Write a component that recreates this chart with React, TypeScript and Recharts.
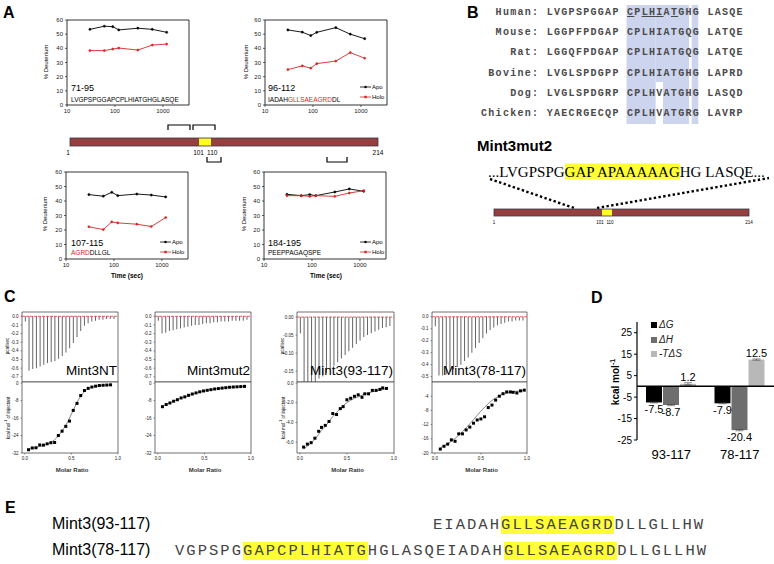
import React from "react";
import {
  LineChart, Line, XAxis, YAxis, ReferenceArea, ReferenceLine,
  BarChart, Bar, ComposedChart, Scatter, ZAxis, LabelList, ErrorBar,
} from "recharts";

const SANS = "'Liberation Sans', Arial, sans-serif";
const MONO = "'Liberation Mono', 'Courier New', monospace";
const SERIF = "'Liberation Serif', 'Times New Roman', serif";
const RED = "#d62828";

// ---- Panel A: deuterium uptake (% vs time, sec)
const hdxTime = [30, 60, 90, 120, 300, 600, 1200];
const apo71 = [53.4, 55.6, 55.3, 53, 54.2, 53.4, 51.3];
const holo71 = [38.4, 38.4, 39.5, 40.2, 38.8, 42.3, 43];
const apo96 = [53, 51.4, 49, 51.3, 54.6, 50, 46.8];
const holo96 = [25, 27.6, 26, 29.2, 31, 37, 33];
const apo107 = [44.4, 43.3, 46, 43.7, 44.8, 44.1, 42.8];
const holo107 = [22.2, 20.3, 25.6, 24.9, 24, 22.4, 28.6];
const apo184 = [44.6, 43.7, 44.4, 43.7, 46.2, 48.3, 46.7];
const holo184 = [43.7, 43.7, 43.2, 43.7, 43.2, 45.5, 47.1];
const timeTicks = [10, 100, 1000];
const deutTicks = [0, 10, 20, 30, 40, 50, 60];

// ---- Panel B: alignment
const species = ["  Human:", "  Mouse:", "    Rat:", " Bovine:", "    Dog:", "Chicken:"];
const blockA = ["LVGPSPGGAP", "LGGPFPDGAP", "LGGQFPDGAP", "LVGLSPDGPP", "LVGLSPDGRP", "YAECRGECQP"];
const blockB = ["CPLHIATGHG", "CPLHIATGQG", "CPLHIATGQG", "CPLHIATGHG", "CPLHVATGHG", "CPLHVATGRG"];
const blockC = ["LASQE", "LATQE", "LATQE", "LAPRD", "LASQD", "LAVRP"];

// ---- Panel C: ITC raw peaks (ucal/sec) and integrated heats (kcal/mol)
const peaksNT = [-0.06, -0.63, -0.61, -0.6, -0.58, -0.56, -0.54, -0.53, -0.52, -0.49, -0.46, -0.42, -0.37, -0.31, -0.24, -0.17, -0.11, -0.08, -0.06, -0.05, -0.04, -0.04, -0.03, -0.03, -0.03];
const peaksMut2 = [-0.05, -0.2, -0.19, -0.17, -0.16, -0.15, -0.14, -0.13, -0.12, -0.11, -0.1, -0.1, -0.09, -0.08, -0.08, -0.07, -0.07, -0.06, -0.06, -0.06, -0.05, -0.05, -0.05, -0.05, -0.04];
const peaks93 = [-0.045, -0.18, -0.18, -0.18, -0.18, -0.17, -0.165, -0.155, -0.145, -0.135, -0.125, -0.115, -0.105, -0.095, -0.085, -0.075, -0.065, -0.055, -0.05, -0.045, -0.04, -0.035, -0.03, -0.028, -0.025];
const peaks78 = [-0.08, -0.49, -0.49, -0.48, -0.46, -0.44, -0.42, -0.4, -0.37, -0.34, -0.3, -0.26, -0.22, -0.18, -0.14, -0.11, -0.09, -0.07, -0.06, -0.05, -0.04, -0.04, -0.03, -0.03, -0.03];

const mrNT = [0.04, 0.08, 0.12, 0.16, 0.2, 0.24, 0.28, 0.32, 0.36, 0.4, 0.44, 0.48, 0.52, 0.56, 0.6, 0.64, 0.68, 0.72, 0.76, 0.8, 0.84, 0.88, 0.92];
const heatNT = [-30.5, -29.7, -29.6, -28.3, -28.4, -27.8, -27.3, -27.2, -24, -22, -19.8, -17.4, -12.5, -9.3, -5.7, -3.4, -2.4, -1.8, -1.4, -1.1, -1, -0.9, -0.8];
const fitNT = [-30.3, -29.9, -29.5, -29, -28.5, -27.9, -27.1, -25.9, -24.2, -22, -19.3, -16, -12.4, -8.9, -6, -3.9, -2.6, -1.9, -1.5, -1.2, -1, -0.9, -0.8];

const mrMut2 = [0.05, 0.09, 0.13, 0.17, 0.21, 0.25, 0.29, 0.33, 0.37, 0.41, 0.45, 0.49, 0.53, 0.57, 0.61, 0.65, 0.69, 0.73, 0.77, 0.81, 0.85, 0.89, 0.93];
const heatMut2 = [-10.8, -9.8, -9.1, -8.3, -7.6, -6.8, -6.3, -5.6, -5, -4.5, -4, -3.6, -3.3, -3, -2.7, -2.5, -2.3, -2.1, -1.9, -1.8, -1.7, -1.6, -1.5];
const fitMut2 = [-10.6, -9.8, -9, -8.3, -7.6, -6.9, -6.3, -5.7, -5.1, -4.6, -4.1, -3.7, -3.3, -3, -2.7, -2.5, -2.3, -2.1, -1.9, -1.8, -1.7, -1.6, -1.5];

const mr93 = [0.04, 0.08, 0.12, 0.16, 0.2, 0.23, 0.27, 0.31, 0.35, 0.39, 0.43, 0.46, 0.5, 0.54, 0.58, 0.62, 0.66, 0.69, 0.73, 0.77, 0.81, 0.85, 0.88, 0.92];
const heat93 = [-6.5, -6.2, -6.05, -5.6, -4.9, -4.5, -4.3, -3.9, -3.1, -3.2, -2.6, -2.4, -1.7, -1.55, -1.35, -1.2, -1.45, -1.1, -1.1, -0.75, -0.75, -0.65, -0.5, -0.55];
const fit93 = [-6.7, -6.4, -6.1, -5.7, -5.2, -4.8, -4.4, -3.9, -3.4, -3, -2.6, -2.3, -2, -1.75, -1.55, -1.4, -1.25, -1.12, -1, -0.9, -0.8, -0.72, -0.65, -0.58];

const mr78 = [0.06, 0.1, 0.14, 0.18, 0.22, 0.26, 0.3, 0.34, 0.38, 0.42, 0.46, 0.5, 0.54, 0.58, 0.62, 0.66, 0.7, 0.74, 0.78, 0.82, 0.85, 0.89, 0.93, 0.97];
const heat78 = [-18.9, -18.1, -17.5, -16.3, -16.7, -14.6, -14.6, -13.5, -12.7, -11.6, -10.7, -10.4, -9.8, -7.2, -6.5, -5.1, -4, -3.3, -2.8, -2.8, -2.9, -3.1, -2.5, -2.3];
const fit78 = [-18.5, -18, -17.4, -16.7, -15.9, -15, -14, -12.9, -11.8, -10.6, -9.4, -8.2, -7.1, -6.1, -5.2, -4.5, -3.9, -3.4, -3.1, -2.9, -2.7, -2.6, -2.5, -2.4];

// ---- Panel D: thermodynamics (kcal/mol)
const groups = ["93-117", "78-117"];
const dG = [-7.5, -7.9];
const dH = [-8.7, -20.4];
const mTdS = [1.2, 12.5];
const dGErr = [0.2, 0.2];
const dHErr = [0.3, 0.3];
const mTdSErr = [0.5, 0.3];
const kcalTicks = [-25, -15, -5, 5, 15, 25];

const tickStyle = (s: number) => ({ fontSize: s, fill: "#222", fontFamily: SANS });

function Txt({ x, y, size, children, weight = 400, color = "#000", font = SANS, align = "left", rotate = false, italic = false }: any) {
  let transform = "translate(0, -50%)";
  if (rotate) transform = "translate(-50%, -50%) rotate(-90deg)";
  else if (align === "center") transform = "translate(-50%, -50%)";
  else if (align === "right") transform = "translate(-100%, -50%)";
  return (
    <div style={{ position: "absolute", left: x, top: y, fontSize: size, lineHeight: 1, fontWeight: weight, color, fontFamily: font, whiteSpace: "pre", transform, fontStyle: italic ? "italic" : "normal" }}>
      {children}
    </div>
  );
}

function Hdx({ px, py, ph, apo, holo }: any) {
  const data = hdxTime.map((t, i) => ({ t, apo: apo[i], holo: holo[i] }));
  const yw = 16;
  return (
    <div style={{ position: "absolute", left: px - yw, top: py - 2 }}>
      <LineChart width={yw + 122 + 2} height={2 + ph + 12} data={data} margin={{ top: 2, right: 2, left: 0, bottom: 0 }}>
        <XAxis dataKey="t" type="number" scale="log" domain={[10, 3500]} ticks={timeTicks} allowDataOverflow interval={0} height={12} axisLine={false} tickSize={2} tickLine={{ stroke: "#000", strokeWidth: 0.6 }} tick={tickStyle(6)} />
        <YAxis domain={[0, 60]} ticks={deutTicks} interval={0} width={yw} axisLine={false} tickSize={2} tickLine={{ stroke: "#000", strokeWidth: 0.6 }} tick={tickStyle(6)} />
        <ReferenceArea x1={10} x2={3500} y1={0} y2={60} fill="none" stroke="#000" strokeWidth={0.8} ifOverflow="visible" />
        <Line dataKey="apo" stroke="#000" strokeWidth={0.9} dot={{ r: 1.1, fill: "#000", stroke: "#000", strokeWidth: 0.5 }} isAnimationActive={false} />
        <Line dataKey="holo" stroke={RED} strokeWidth={0.9} dot={{ r: 1.1, fill: RED, stroke: RED, strokeWidth: 0.5 }} isAnimationActive={false} />
      </LineChart>
    </div>
  );
}

function HdxLegend({ x, y }: any) {
  return (
    <>
      <svg style={{ position: "absolute", left: x, top: y - 3 }} width={12} height={16}>
        <line x1={0} y1={3} x2={11} y2={3} stroke="#000" strokeWidth={0.8} />
        <circle cx={5.5} cy={3} r={1.2} fill="#000" />
        <line x1={0} y1={13} x2={11} y2={13} stroke={RED} strokeWidth={0.8} />
        <rect x={4.3} y={11.8} width={2.4} height={2.4} fill={RED} />
      </svg>
      <Txt x={x + 12} y={y} size={6}>Apo</Txt>
      <Txt x={x + 12} y={y + 10} size={6}>Holo</Txt>
    </>
  );
}

function Thermogram({ L, R, peaks, domain, ticks, digits }: any) {
  const data = peaks.map((v: number, i: number) => ({ n: i + 1, v }));
  const yw = 16;
  return (
    <div style={{ position: "absolute", left: L - yw, top: 310 }}>
      <BarChart width={R - L + yw + 1} height={72} data={data} margin={{ top: 2, right: 1, left: 0, bottom: 0 }}>
        <XAxis dataKey="n" type="number" domain={[0, peaks.length + 1]} hide />
        <YAxis domain={domain} ticks={ticks} interval={0} allowDataOverflow width={yw} axisLine={false} tickSize={1.5} tickLine={{ stroke: "#333", strokeWidth: 0.5 }} tick={tickStyle(4.5)} tickFormatter={(v: number) => v.toFixed(digits)} />
        <ReferenceArea x1={0} x2={peaks.length + 1} y1={domain[0]} y2={domain[1]} fill="none" stroke="#333" strokeWidth={0.7} ifOverflow="visible" />
        <Bar dataKey="v" fill="#666" barSize={1} isAnimationActive={false} />
        <ReferenceLine y={0} stroke="#e03a3a" strokeWidth={0.8} strokeDasharray="3 1" />
      </BarChart>
    </div>
  );
}

function Isotherm({ L, R, mr, heat, fit, domain, ticks, digits }: any) {
  const data = mr.map((m: number, i: number) => ({ m, y: heat[i], fit: fit[i] }));
  const yw = 16;
  return (
    <div style={{ position: "absolute", left: L - yw, top: 380 }}>
      <ComposedChart width={R - L + yw + 6} height={73 + 11} data={data} margin={{ top: 2, right: 6, left: 0, bottom: 0 }}>
        <XAxis dataKey="m" type="number" domain={[-0.03, 1]} ticks={[0, 0.5, 1]} interval={0} allowDataOverflow height={11} axisLine={false} tickSize={1.5} tickLine={{ stroke: "#333", strokeWidth: 0.5 }} tick={tickStyle(4.5)} tickFormatter={(v: number) => v.toFixed(1)} />
        <YAxis domain={domain} ticks={ticks} interval={0} allowDataOverflow width={yw} axisLine={false} tickSize={1.5} tickLine={{ stroke: "#333", strokeWidth: 0.5 }} tick={tickStyle(4.5)} tickFormatter={(v: number) => (v === 0 && digits === 0 ? "0" : v.toFixed(digits))} />
        <ZAxis range={[9, 9]} />
        <ReferenceArea x1={-0.03} x2={1} y1={domain[0]} y2={domain[1]} fill="none" stroke="#333" strokeWidth={0.7} ifOverflow="visible" />
        <Line dataKey="fit" type="monotone" stroke="#555" strokeWidth={0.7} dot={false} isAnimationActive={false} />
        <Scatter dataKey="y" fill="#000" shape="square" isAnimationActive={false} />
      </ComposedChart>
    </div>
  );
}

const itc = [
  { L: 22, R: 118, name: "Mint3NT", peaks: peaksNT, tDom: [-0.76, 0.05], tTicks: [0, -0.1, -0.2, -0.3, -0.4, -0.5, -0.6, -0.7], tDig: 1, mr: mrNT, heat: heatNT, fit: fitNT, bDom: [-32, 0.5], bTicks: [0, -8, -16, -24, -32], bDig: 0, label: true },
  { L: 155, R: 251, name: "Mint3mut2", peaks: peaksMut2, tDom: [-0.76, 0.05], tTicks: [0, -0.1, -0.2, -0.3, -0.4, -0.5, -0.6, -0.7], tDig: 1, mr: mrMut2, heat: heatMut2, fit: fitMut2, bDom: [-32, 0.5], bTicks: [0, -8, -16, -24, -32], bDig: 0, label: false },
  { L: 297, R: 394, name: "Mint3(93-117)", peaks: peaks93, tDom: [-0.18, 0.014], tTicks: [0, -0.05, -0.1, -0.15], tDig: 2, mr: mr93, heat: heat93, fit: fit93, bDom: [-7.1, 0.1], bTicks: [0, -2, -4, -6], bDig: 1, label: true },
  { L: 432, R: 527, name: "Mint3(78-117)", peaks: peaks78, tDom: [-0.545, 0.04], tTicks: [0, -0.1, -0.2, -0.3, -0.4, -0.5], tDig: 1, mr: mr78, heat: heat78, fit: fit78, bDom: [-20, 0], bTicks: [-4, -8, -12, -16, -20], bDig: 0, label: false },
];

function Decor() {
  const shade = "#cdd4ee";
  const cw = 7.3;
  const b0 = 626.5;
  return (
    <svg width={774} height={564} style={{ position: "absolute", left: 0, top: 0 }}>
      <rect x={b0} y={5} width={cw * 4} height={119} fill={shade} />
      <rect x={b0 + cw * 4} y={5} width={cw} height={77} fill={shade} />
      <rect x={b0 + cw * 5} y={5} width={cw * 3.56} height={119} fill={shade} />
      <rect x={b0 + cw * 9 - 0.5} y={5} width={cw * 0.9} height={119} fill={shade} />
      {/* panel A protein */}
      <rect x={70} y={138} width={308} height={8} fill="#953f3f" stroke="#3a3a4a" strokeWidth={0.8} />
      <rect x={199} y={138.5} width={12} height={7} fill="#ffff20" />
      <path d="M168 130 V125 H190 V130 M193 130 V125 H215 V130" stroke="#000" strokeWidth={1.2} fill="none" />
      <path d="M207 157 V162 H221 V157 M327 157 V162 H347 V157" stroke="#000" strokeWidth={1.2} fill="none" />
      <g fontFamily={SANS} fontSize={6.5} fill="#000">
        <text x={68} y={154.5} textAnchor="middle">1</text>
        <text x={204} y={154.5} textAnchor="end">101</text>
        <text x={207} y={154.5}>110</text>
        <text x={378} y={154.5} textAnchor="middle">214</text>
      </g>
      {/* panel B mutant */}
      <line x1={490} y1={179} x2={574} y2={208} stroke="#000" strokeWidth={2.4} strokeDasharray="2.4 2.4" />
      <line x1={597} y1={208} x2={769} y2={178} stroke="#000" strokeWidth={2.4} strokeDasharray="2.4 2.4" />
      <rect x={494} y={209} width={255} height={7} fill="#953f3f" stroke="#3a3a4a" strokeWidth={0.8} />
      <rect x={602} y={209.5} width={10} height={6} fill="#ffff20" />
      <g fontFamily={SANS} fontSize={4.5} fill="#000">
        <text x={494} y={223.5} textAnchor="middle">1</text>
        <text x={600} y={223.5} textAnchor="middle">101</text>
        <text x={610} y={223.5} textAnchor="middle">110</text>
        <text x={749} y={223.5} textAnchor="middle">214</text>
      </g>
    </svg>
  );
}

const HL = ({ children }: any) => <span style={{ background: "#ffff33" }}>{children}</span>;

export default function App() {
  const thermoData = groups.map((g, i) => ({ g, dG: dG[i], dH: dH[i], tds: mTdS[i], dGe: dGErr[i], dHe: dHErr[i], tdse: mTdSErr[i] }));
  const monoB = { fontFamily: MONO, fontSize: 10, letterSpacing: 1.3, fontWeight: 700, color: "#4a4a4a" };
  const monoE = { fontFamily: MONO, fontSize: 15.5, letterSpacing: 2.04, lineHeight: "18px", color: "#444", whiteSpace: "pre" as const };
  return (
    <div style={{ position: "absolute", left: 0, top: 0, width: 774, height: 564, background: "#fff", fontFamily: SANS, overflow: "hidden" }}>
      <Decor />

      {/* Panel A */}
      <Txt x={3} y={13} size={16} weight={700}>A</Txt>
      <Hdx px={67} py={20} ph={85} apo={apo71} holo={holo71} />
      <Hdx px={265} py={20} ph={85} apo={apo96} holo={holo96} />
      <Hdx px={66} py={172} ph={87} apo={apo107} holo={holo107} />
      <Hdx px={264} py={172} ph={87} apo={apo184} holo={holo184} />
      {[[46, 62], [246, 62], [45, 214], [244, 214]].map(([x, y], i) => (
        <Txt key={i} x={x} y={y} size={6} rotate>% Deuterium</Txt>
      ))}
      <Txt x={127} y={276} size={6.5} weight={700} align="center">Time (sec)</Txt>
      <Txt x={326} y={276} size={6.5} weight={700} align="center">Time (sec)</Txt>
      <Txt x={71} y={88} size={9}>71-95</Txt>
      <Txt x={71} y={99.5} size={6.5}>LVGPSPGGAPCPLHIATGHGLASQE</Txt>
      <Txt x={268} y={88} size={9}>96-112</Txt>
      <Txt x={268} y={99.5} size={6.5}>IADAH<span style={{ color: RED }}>GLLSAEAGRD</span>DL</Txt>
      <Txt x={71} y={243} size={9}>107-115</Txt>
      <Txt x={71} y={253} size={6.5}><span style={{ color: RED }}>AGRD</span>DLLGL</Txt>
      <Txt x={268} y={243} size={9}>184-195</Txt>
      <Txt x={268} y={253} size={6.5}>PEEPPAGAQSPE</Txt>
      <HdxLegend x={360} y={87} />
      <HdxLegend x={160} y={242} />
      <HdxLegend x={360} y={242} />

      {/* Panel B */}
      <Txt x={467} y={13} size={16} weight={700}>B</Txt>
      {species.map((s, i) => (
        <div key={s} style={{ position: "absolute", left: 481, top: 7 + i * 20.2, lineHeight: "12px", whiteSpace: "pre", ...monoB }}>
          {s + " " + blockA[i] + " "}
          {i === 0 ? (<><u>C</u>P<u>LHI</u>A<u>T</u>GHG</>) : blockB[i]}
          {" " + blockC[i]}
        </div>
      ))}
      <Txt x={477} y={145} size={15} weight={700}>Mint3mut2</Txt>
      <Txt x={488} y={172} size={15} font={SERIF}>...LVGPSPG<HL>GAP APAAAAAG</HL>HG LASQE...</Txt>

      {/* Panel C */}
      <Txt x={4} y={297} size={16} weight={700}>C</Txt>
      {itc.map((p) => (
        <React.Fragment key={p.name}>
          <Thermogram L={p.L} R={p.R} peaks={p.peaks} domain={p.tDom} ticks={p.tTicks} digits={p.tDig} />
          <Isotherm L={p.L} R={p.R} mr={p.mr} heat={p.heat} fit={p.fit} domain={p.bDom} ticks={p.bTicks} digits={p.bDig} />
          <div style={{ position: "absolute", left: p.L, top: 364, width: p.R - p.L - 1, textAlign: "right", fontSize: 13.5, lineHeight: "14px", whiteSpace: "nowrap" }}>{p.name}</div>
          <Txt x={(p.L + p.R) / 2 + 2} y={470} size={6} weight={700} color="#333" align="center">Molar Ratio</Txt>
          {p.label && (
            <>
              <Txt x={p.L - 14} y={346} size={4.5} rotate>µcal/sec</Txt>
              <Txt x={p.L - 14} y={418} size={4.5} rotate>kcal mol<sup style={{ fontSize: 3.5 }}>-1</sup> of injectant</Txt>
            </>
          )}
        </React.Fragment>
      ))}

      {/* Panel D */}
      <Txt x={591} y={298} size={16} weight={700}>D</Txt>
      <div style={{ position: "absolute", left: 600, top: 318 }}>
        <BarChart width={174} height={146} data={thermoData} margin={{ top: 4, right: 0, left: 0, bottom: 0 }} barGap={1}>
          <XAxis dataKey="g" axisLine={false} tickLine={false} tickSize={0} tickMargin={10} height={24} tick={{ fontSize: 13, fill: "#000", fontFamily: SANS }} />
          <YAxis domain={[-25, 30]} ticks={kcalTicks} interval={0} allowDataOverflow width={37} axisLine={{ stroke: "#000", strokeWidth: 1.2 }} tickLine={{ stroke: "#000" }} tickSize={3} tick={{ fontSize: 10, fill: "#000", fontFamily: SANS }} />
          <Bar dataKey="dG" fill="#000" barSize={16} isAnimationActive={false}>
            <ErrorBar dataKey="dGe" width={4} stroke="#444" strokeWidth={0.6} />
            <LabelList dataKey="dG" position="top" offset={3} fontSize={11} fill="#000" fontFamily={SANS} />
          </Bar>
          <Bar dataKey="dH" fill="#6e6e6e" barSize={16} isAnimationActive={false}>
            <ErrorBar dataKey="dHe" width={4} stroke="#444" strokeWidth={0.6} />
            <LabelList dataKey="dH" position="top" offset={3} fontSize={11} fill="#000" fontFamily={SANS} />
          </Bar>
          <Bar dataKey="tds" fill="#b8b8b8" barSize={16} isAnimationActive={false}>
            <ErrorBar dataKey="tdse" width={4} stroke="#444" strokeWidth={0.6} />
            <LabelList dataKey="tds" position="top" offset={3} fontSize={11} fill="#000" fontFamily={SANS} />
          </Bar>
          <ReferenceLine y={0} stroke="#000" strokeWidth={1.5} />
        </BarChart>
      </div>
      <Txt x={615} y={382} size={10} weight={700} rotate>kcal mol<sup style={{ fontSize: 7 }}>-1</sup></Txt>
      {[["#000", "ΔG", 325], ["#6e6e6e", "ΔH", 340], ["#b8b8b8", "-TΔS", 354]].map(([c, t, y]) => (
        <React.Fragment key={t as string}>
          <div style={{ position: "absolute", left: 651, top: (y as number) - 3, width: 6, height: 6, background: c as string }} />
          <Txt x={659} y={y} size={10} italic color="#222">{t}</Txt>
        </React.Fragment>
      ))}

      {/* Panel E */}
      <Txt x={5} y={508} size={16} weight={700}>E</Txt>
      <Txt x={52} y={524} size={16}>Mint3(93-117)</Txt>
      <Txt x={52} y={550} size={16}>Mint3(78-117)</Txt>
      <div style={{ position: "absolute", left: 433, top: 516, ...monoE }}>
        EIADAH<HL>GLLSAEAGRD</HL>DLLGLLHW
      </div>
      <div style={{ position: "absolute", left: 175, top: 542, ...monoE }}>
        VGPSPG<HL>GAPCPLHIATG</HL>HGLASQEIADAH<HL>GLLSAEAGRD</HL>DLLGLLHW
      </div>
    </div>
  );
}
